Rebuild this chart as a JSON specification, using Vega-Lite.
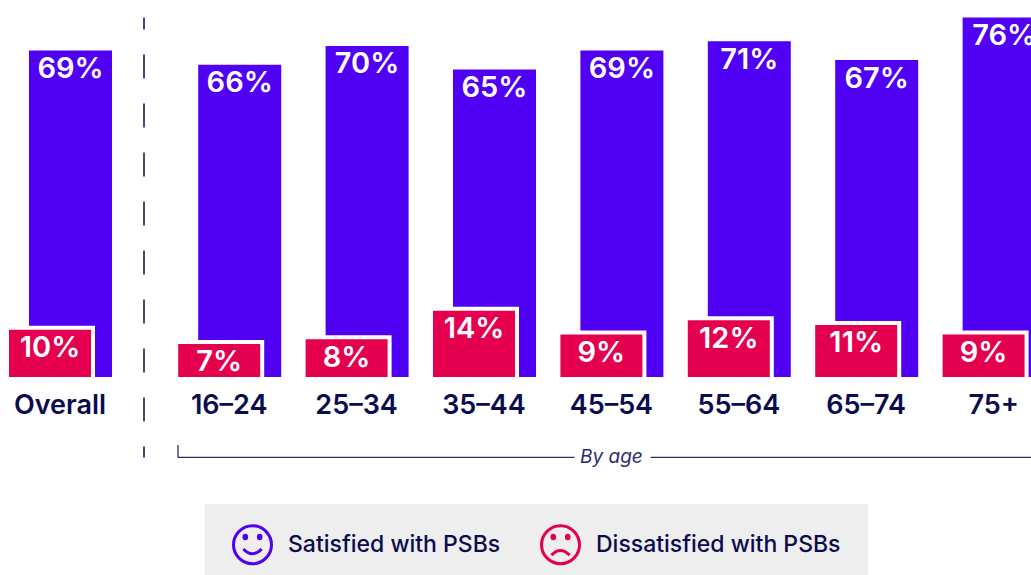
{
"$schema":"https://vega.github.io/schema/vega-lite/v6.json",
"width":1031,"height":575,"padding":0,"autosize":{"type":"none"},
"background":"white",
"config":{"view":{"stroke":null},"font":"Inter"},
"datasets":{"rows":[
{"group":"Overall","measure":"Satisfied with PSBs","value":69,"label":"69%"},
{"group":"Overall","measure":"Dissatisfied with PSBs","value":10,"label":"10%"},
{"group":"16–24","measure":"Satisfied with PSBs","value":66,"label":"66%"},
{"group":"16–24","measure":"Dissatisfied with PSBs","value":7,"label":"7%"},
{"group":"25–34","measure":"Satisfied with PSBs","value":70,"label":"70%"},
{"group":"25–34","measure":"Dissatisfied with PSBs","value":8,"label":"8%"},
{"group":"35–44","measure":"Satisfied with PSBs","value":65,"label":"65%"},
{"group":"35–44","measure":"Dissatisfied with PSBs","value":14,"label":"14%"},
{"group":"45–54","measure":"Satisfied with PSBs","value":69,"label":"69%"},
{"group":"45–54","measure":"Dissatisfied with PSBs","value":9,"label":"9%"},
{"group":"55–64","measure":"Satisfied with PSBs","value":71,"label":"71%"},
{"group":"55–64","measure":"Dissatisfied with PSBs","value":12,"label":"12%"},
{"group":"65–74","measure":"Satisfied with PSBs","value":67,"label":"67%"},
{"group":"65–74","measure":"Dissatisfied with PSBs","value":11,"label":"11%"},
{"group":"75+","measure":"Satisfied with PSBs","value":76,"label":"76%"},
{"group":"75+","measure":"Dissatisfied with PSBs","value":9,"label":"9%"}
]},
"resolve":{"scale":{"x":"independent"},"axis":{"x":"independent"}},
"layer":[
{
"data":{"name":"rows"},
"transform":[{"filter":"datum.group==='Overall'"}],
"encoding":{
"x":{"field":"group","type":"nominal","scale":{"domain":["Overall"],"range":[0,120],"paddingInner":0,"paddingOuter":0},
"axis":{"title":null,"orient":"bottom","offset":-198,"domain":false,"ticks":false,"labelAngle":0,"labelFontSize":27,"labelFontWeight":600,"labelColor":"#0b0b4f","labelPadding":15,"labelFont":"Inter"}},
"y":{"field":"value","type":"quantitative","scale":{"domain":[-41.86,79.7],"nice":false,"zero":false},"axis":null}
},
"layer":[
{"transform":[{"filter":"datum.measure==='Satisfied with PSBs'"}],
 "mark":{"type":"bar","size":83,"xOffset":10.5,"color":"#5000f2"},
 "encoding":{"y2":{"datum":0}}},
{"mark":{"type":"point","size":0,"filled":false,"strokeWidth":3},
 "encoding":{"color":{"field":"measure","type":"nominal","scale":{"domain":["Satisfied with PSBs","Dissatisfied with PSBs"],"range":["#5000f2","#e4004f"]},"legend":{"title":" ","titleOrient":"right","titlePadding":8,"titleFontSize":1,"orient":"none","legendX":205,"legendY":504,"direction":"horizontal","padding":20,"fillColor":"#eeeeee","symbolOffset":7,"symbolSize":1444,"symbolStrokeWidth":3,"symbolOpacity":1,"symbolFillColor":"transparent","labelFontSize":23,"labelFontWeight":500,"labelColor":"#0b0b4f","labelFont":"Inter","labelOffset":15,"labelLimit":400,"columnPadding":32}},
   "shape":{"field":"measure","type":"nominal","scale":{"domain":["Satisfied with PSBs","Dissatisfied with PSBs"],"range":["M-1,0A1,1 0 1,1 1,0A1,1 0 1,1 -1,0Z M-0.38,-0.32a0.07,0.09 0 1,1 0.001,0Z M0.38,-0.32a0.07,0.09 0 1,1 0.001,0Z M-0.48,0.22Q0,0.72 0.48,0.22","M-1,0A1,1 0 1,1 1,0A1,1 0 1,1 -1,0Z M-0.38,-0.32a0.07,0.09 0 1,1 0.001,0Z M0.38,-0.32a0.07,0.09 0 1,1 0.001,0Z M-0.48,0.55Q0,0.05 0.48,0.55"]}}}},
{"transform":[{"filter":"datum.measure==='Dissatisfied with PSBs'"}],
 "mark":{"type":"bar","size":82,"xOffset":-10,"stroke":"white","strokeWidth":8,"fill":"white"},
 "encoding":{"y2":{"datum":0}}},
{"transform":[{"filter":"datum.measure==='Dissatisfied with PSBs'"}],
 "mark":{"type":"bar","size":82,"xOffset":-10,"color":"#e4004f"},
 "encoding":{"y2":{"datum":0}}},
{"transform":[{"filter":"datum.measure==='Satisfied with PSBs'"}],
 "mark":{"type":"text","xOffset":10.5,"dy":18.5,"color":"white","fontSize":29,"fontWeight":600,"font":"Inter","baseline":"middle"},
 "encoding":{"text":{"field":"label"}}},
{"transform":[{"filter":"datum.measure==='Dissatisfied with PSBs'"}],
 "mark":{"type":"text","xOffset":-10,"dy":18.5,"color":"white","fontSize":29,"fontWeight":600,"font":"Inter","baseline":"middle"},
 "encoding":{"text":{"field":"label"}}},
{"transform":[{"filter":"datum.measure==='Satisfied with PSBs'"}],
 "mark":{"type":"rule","stroke":"#0b0b4f","strokeWidth":1.5,"strokeDash":[24,25],"strokeDashOffset":12},
 "encoding":{"x":{"field":"group","type":"nominal","bandPosition":1.2},"y":{"datum":76},"y2":{"datum":-17}}}
]
},
{
"data":{"name":"rows"},
"transform":[{"filter":"datum.group!=='Overall'"}],
"encoding":{
"x":{"field":"group","type":"nominal","sort":null,"scale":{"domain":["16–24","25–34","35–44","45–54","55–64","65–74","75+"],"range":[165.5,1057.3],"paddingInner":0,"paddingOuter":0},
"axis":{"title":null,"orient":"bottom","offset":-198,"domain":false,"ticks":false,"labelAngle":0,"labelFontSize":27,"labelFontWeight":600,"labelColor":"#0b0b4f","labelPadding":15,"labelFont":"Inter"}},
"y":{"field":"value","type":"quantitative","scale":{"domain":[-41.86,79.7],"nice":false,"zero":false},"axis":null}
},
"layer":[
{"transform":[{"filter":"datum.measure==='Satisfied with PSBs'"}],
 "mark":{"type":"bar","size":83,"xOffset":10.5,"clip":true,"color":"#5000f2"},
 "encoding":{"y2":{"datum":0}}},
{"transform":[{"filter":"datum.measure==='Dissatisfied with PSBs'"}],
 "mark":{"type":"bar","size":82,"xOffset":-10,"stroke":"white","strokeWidth":8,"fill":"white","clip":true},
 "encoding":{"y2":{"datum":0}}},
{"transform":[{"filter":"datum.measure==='Dissatisfied with PSBs'"}],
 "mark":{"type":"bar","size":82,"xOffset":-10,"clip":true,"color":"#e4004f"},
 "encoding":{"y2":{"datum":0}}},
{"transform":[{"filter":"datum.measure==='Satisfied with PSBs'"}],
 "mark":{"type":"text","xOffset":10.5,"dy":18.5,"color":"white","fontSize":29,"fontWeight":600,"font":"Inter","baseline":"middle","clip":true},
 "encoding":{"text":{"field":"label"}}},
{"transform":[{"filter":"datum.measure==='Dissatisfied with PSBs'"}],
 "mark":{"type":"text","xOffset":-10,"dy":18.5,"color":"white","fontSize":29,"fontWeight":600,"font":"Inter","baseline":"middle","clip":true},
 "encoding":{"text":{"field":"label"}}},
{"transform":[{"filter":"datum.group==='16–24' && datum.measure==='Satisfied with PSBs'"}],
 "mark":{"type":"rule","stroke":"#2b2b6f","strokeWidth":1.3,"clip":true,"x2Offset":100},
 "encoding":{"x":{"field":"group","type":"nominal","bandPosition":0.098},"x2":{"datum":"75+"},"y":{"datum":-17}}},
{"transform":[{"filter":"datum.group==='16–24' && datum.measure==='Satisfied with PSBs'"}],
 "mark":{"type":"rule","stroke":"#2b2b6f","strokeWidth":1.3},
 "encoding":{"x":{"field":"group","type":"nominal","bandPosition":0.098},"y":{"datum":-17},"y2":{"datum":-14.4}}},
{"transform":[{"filter":"datum.group==='45–54' && datum.measure==='Satisfied with PSBs'"}],
 "mark":{"type":"text","text":"By age","fontSize":19,"fontStyle":"italic","font":"Inter","color":"white","stroke":"white","strokeWidth":14,"baseline":"middle"},
 "encoding":{"y":{"datum":-17}}},
{"transform":[{"filter":"datum.group==='45–54' && datum.measure==='Satisfied with PSBs'"}],
 "mark":{"type":"text","text":"By age","fontSize":19,"fontStyle":"italic","font":"Inter","color":"#2b2b6f","baseline":"middle"},
 "encoding":{"y":{"datum":-17}}}
]
}
]
}
